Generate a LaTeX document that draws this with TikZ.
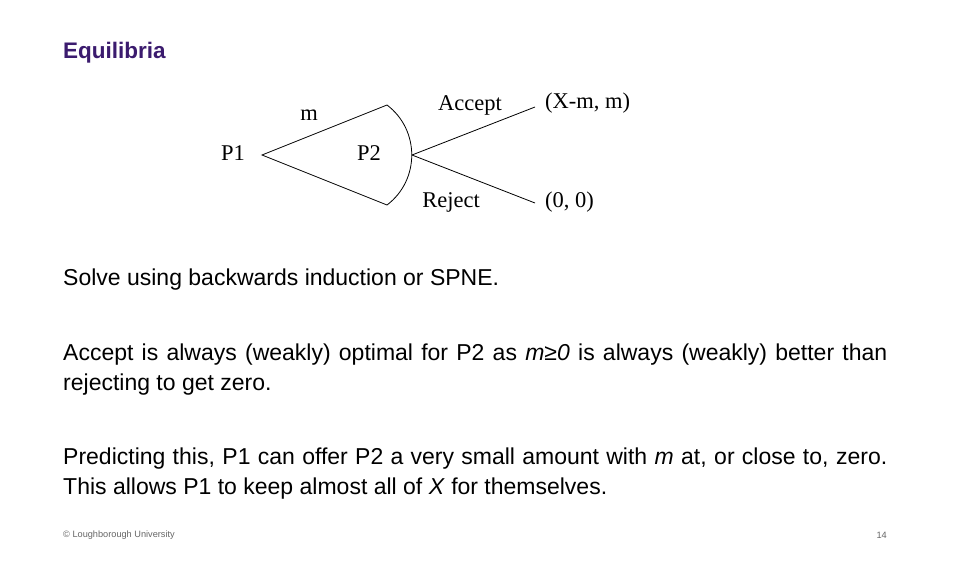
\documentclass[tikz,border=0pt]{standalone}
\usepackage{fontspec}
\setmainfont{Liberation Sans}
\newfontfamily\treefont{Liberation Serif}
\definecolor{titlec}{HTML}{3B1B6E}
\definecolor{footc}{HTML}{666666}
\begin{document}
\begin{tikzpicture}[x=1pt,y=-1pt,
  treelbl/.style={font=\treefont\fontsize{22.5}{26}\selectfont,inner sep=0},
  body/.style={anchor=north west,inner sep=0,align=justify,text width=824pt,font=\fontsize{23}{29.5}\selectfont},
  edge/.style={line width=0.8pt}]
\useasboundingbox[fill=white] (0,0) rectangle (956,566);
\node[anchor=west,inner sep=0,text=titlec,font=\bfseries\fontsize{22.5}{26}\selectfont] (title) at (63,53) {Equilibria};
\coordinate (p1) at (262,155);
\coordinate (up) at (387,105);
\coordinate (lo) at (387,205);
\coordinate (p2) at (412,155);
\coordinate (acc) at (535,107);
\coordinate (rej) at (535,203);
\draw[edge] (up) -- (p1) -- (lo);
\draw[edge] (up) .. controls (420,130) and (420,180) .. (lo);
\draw[edge] (p2) -- (acc);
\draw[edge] (p2) -- (rej);
\node[treelbl] (lp1) at (233,153) {P1};
\node[treelbl] (lm) at (309,115) {m};
\node[treelbl] (lp2) at (369,153) {P2};
\node[treelbl] (lacc) at (470,105) {Accept};
\node[treelbl] (lrej) at (451,202) {Reject};
\node[treelbl,anchor=west] (oacc) at (545,103) {(X-m, m)};
\node[treelbl,anchor=west] (orej) at (545,202) {(0, 0)};
\node[body] (t1) at (63,269) {Solve using backwards induction or SPNE.};
\node[body] (t2) at (63,344) {Accept is always (weakly) optimal for P2 as \textit{m≥0} is always (weakly) better than\linebreak rejecting to get zero.};
\node[body] (t3) at (63,448) {Predicting this, P1 can offer P2 a very small amount with \textit{m} at, or close to, zero.\linebreak This allows P1 to keep almost all of \textit{X} for themselves.};
\node[anchor=west,inner sep=0,text=footc,font=\fontsize{9.2}{11}\selectfont] (foot) at (63,535) {© Loughborough University};
\node[anchor=east,inner sep=0,text=footc,font=\fontsize{9.2}{11}\selectfont] (pg) at (887,535) {14};
\end{tikzpicture}
\end{document}
